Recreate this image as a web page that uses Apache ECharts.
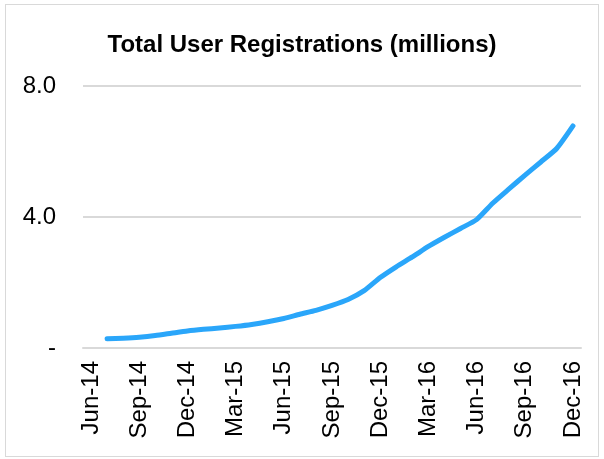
<!DOCTYPE html>
<html>
<head>
<meta charset="utf-8">
<script src="https://cdn.jsdelivr.net/npm/echarts@6/dist/echarts.min.js"></script>
<style>
  html, body { margin: 0; padding: 0; background: #fff; }
  .chart-container {
    position: absolute;
    left: 5px; top: 4px;
    width: 592px; height: 451px;
    border: 1px solid #d9d9d9;
  }
  #chart { position: absolute; left: -6px; top: -5px; width: 604px; height: 459px; }
</style>
</head>
<body>
<div class="chart-container"><div id="chart"></div></div>
<script>
// monthly, Jun-14 .. Dec-16
const months = [
  'Jun-14', 'Jul-14', 'Aug-14', 'Sep-14', 'Oct-14', 'Nov-14', 'Dec-14',
  'Jan-15', 'Feb-15', 'Mar-15', 'Apr-15', 'May-15', 'Jun-15',
  'Jul-15', 'Aug-15', 'Sep-15', 'Oct-15', 'Nov-15', 'Dec-15',
  'Jan-16', 'Feb-16', 'Mar-16', 'Apr-16', 'May-16', 'Jun-16',
  'Jul-16', 'Aug-16', 'Sep-16', 'Oct-16', 'Nov-16', 'Dec-16'
]
// total registrations, millions (no value for Jun-14)
const registrations = [
  null, 0.28, 0.30, 0.33, 0.38, 0.45, 0.52,
  0.57, 0.61, 0.66, 0.72, 0.80, 0.90,
  1.03, 1.15, 1.30, 1.48, 1.75, 2.15,
  2.48, 2.78, 3.10, 3.38, 3.65, 3.92,
  4.42, 4.85, 5.27, 5.68, 6.10, 6.78
]
const yTicks = [0, 4, 8]

const font = 'Liberation Sans, Arial, sans-serif'
const chart = echarts.init(document.getElementById('chart'))
const option = {
  animation: false,
  title: {
    text: 'Total User Registrations (millions)',
    left: 'center',
    top: 28,
    textStyle: {
      fontFamily: font,
      fontSize: 24,
      fontWeight: 'bold',
      color: '#000'
    }
  },
  grid: {
    left: 83,
    right: 23,
    top: 86,
    bottom: 111
  },
  xAxis: {
    type: 'category',
    data: months,
    boundaryGap: true,
    axisTick: { show: false },
    axisLine: { lineStyle: { color: '#d9d9d9', width: 2 } },
    axisLabel: {
      interval: 2,
      rotate: 90,
      margin: 13,
      color: '#000',
      fontSize: 24,
      fontFamily: font
    }
  },
  yAxis: {
    type: 'value',
    min: yTicks[0],
    max: yTicks[yTicks.length - 1],
    interval: 4,
    axisLine: { show: false },
    axisTick: { show: false },
    splitLine: { lineStyle: { color: '#d9d9d9', width: 2 } },
    axisLabel: {
      margin: 27,
      color: '#000',
      fontSize: 24,
      fontFamily: font,
      formatter: v => (v === 0 ? '-' : v.toFixed(1))
    }
  },
  series: [
    {
      name: 'Registrations',
      type: 'line',
      data: registrations,
      smooth: 0.2,
      showSymbol: false,
      lineStyle: { color: '#2AA6FA', width: 5, cap: 'round', join: 'round' }
    }
  ]
}
chart.setOption(option)
</script>
</body>
</html>
